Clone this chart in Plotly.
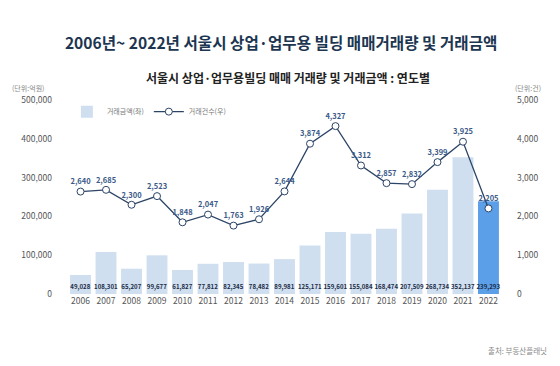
import plotly.graph_objects as go

years = [str(y) for y in range(2006, 2023)]
amount = [49028, 108301, 65207, 99677, 61827, 77812, 82345, 78482, 89981,
          125171, 159601, 155084, 168474, 207509, 268734, 352137, 239293]
count = [2640, 2685, 2300, 2523, 1848, 2047, 1763, 1926, 2644,
         3874, 4327, 3312, 2857, 2832, 3399, 3925, 2205]
left_ticks = [0, 100000, 200000, 300000, 400000, 500000]
right_ticks = [0, 1000, 2000, 3000, 4000, 5000]

FONT = "Noto Sans CJK KR"
bar_colors = ["#cfdff0"] * (len(years) - 1) + ["#5b9fe8"]

fig = go.Figure()
fig.add_trace(go.Bar(
    x=years, y=amount, name="거래금액(좌)",
    marker=dict(color=bar_colors, line=dict(width=0)),
    text=[f"{v:,}" for v in amount], textposition="inside",
    insidetextanchor="start", textangle=0, constraintext="none",
    textfont=dict(family=FONT, size=6.1, color="#1d2b45", weight="bold"),
    yaxis="y",
))
fig.add_trace(go.Scatter(
    x=years, y=count, name="거래건수(우)", mode="lines+markers+text",
    line=dict(color="#2c4466", width=1.3),
    marker=dict(symbol="circle", size=7, color="white",
                line=dict(color="#2c4466", width=1)),
    text=[f"{v:,}" for v in count], textposition="top center",
    textfont=dict(family=FONT, size=7.5, color="#3b5a88", weight="bold"),
    yaxis="y2",
))

fig.update_layout(
    width=560, height=366,
    margin=dict(l=53, r=44, t=100, b=72),
    paper_bgcolor="white", plot_bgcolor="white",
    font=dict(family=FONT, color="#555555"),
    bargap=0.18,
    showlegend=True,
    legend=dict(orientation="h", x=0.03, y=0.94, xanchor="left", yanchor="middle",
                font=dict(size=7, color="#777777"), bgcolor="rgba(0,0,0,0)",
                itemwidth=30, tracegroupgap=0),
    title=dict(text="2006년~ 2022년 서울시 상업·업무용 빌딩 매매거래량 및 거래금액",
               x=0.502, xanchor="center", y=1 - 44 / 366, yanchor="middle",
               font=dict(family=FONT, size=15.6, color="#1c3550", weight="bold")),
    xaxis=dict(type="category", showgrid=False, showline=False, ticks="",
               tickfont=dict(size=8.5, color="#555555")),
    yaxis=dict(range=[0, 500000], tickvals=left_ticks,
               ticktext=[f"{v:,}" for v in left_ticks],
               showgrid=False, zeroline=False, showline=False,
               tickfont=dict(size=8.5, color="#555555")),
    yaxis2=dict(range=[0, 5000], tickvals=right_ticks,
                ticktext=[f"{v:,}" for v in right_ticks],
                overlaying="y", side="right", showgrid=False,
                zeroline=False, showline=False,
                tickfont=dict(size=8.5, color="#555555")),
    annotations=[
        dict(text="서울시 상업·업무용빌딩 매매 거래량 및 거래금액 : 연도별",
             xref="paper", yref="paper", x=(287 - 53) / 462, y=(294 - 77) / 194,
             xanchor="center", yanchor="middle", showarrow=False,
             font=dict(family=FONT, size=12, color="#222222", weight="bold")),
        dict(text="(단위:억원)", xref="paper", yref="paper",
             x=(28 - 53) / 462, y=(294 - 88) / 194, xanchor="center",
             yanchor="middle", showarrow=False,
             font=dict(size=7, color="#888888")),
        dict(text="(단위:건)", xref="paper", yref="paper",
             x=(512 - 53) / 462 + 0.0, y=(294 - 88) / 194, xanchor="left",
             yanchor="middle", showarrow=False,
             font=dict(size=7, color="#888888")),
        dict(text="출처: 부동산플래닛", xref="paper", yref="paper",
             x=(548 - 53) / 462, y=(294 - 350) / 194, xanchor="right",
             yanchor="middle", showarrow=False,
             font=dict(size=7.5, color="#888888")),
    ],
)

fig.write_html("out.html", config={"displayModeBar": False},
               post_script="document.body.style.margin='0';document.body.style.padding='0';")
